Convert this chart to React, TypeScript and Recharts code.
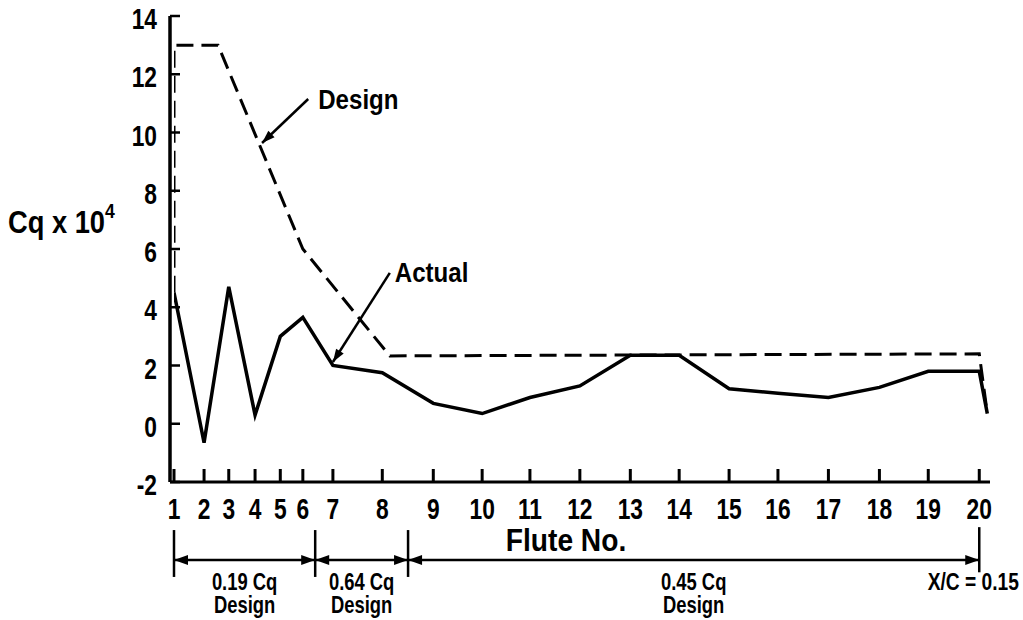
import React from 'react';
import { LineChart, Line, XAxis, YAxis, ReferenceLine } from 'recharts';

const FONT = "'Liberation Sans', Arial, sans-serif";

// flute number and its chordwise station (x/c)
const FLUTE_NO = [1, 2, 3, 4, 5, 6, 7, 8, 9, 10, 11, 12, 13, 14, 15, 16, 17, 18, 19, 20];
const FLUTE_XC = [
  0, 0.0056, 0.0102, 0.0151, 0.0198, 0.024, 0.0296, 0.0388, 0.0483, 0.0574,
  0.0663, 0.0756, 0.085, 0.0941, 0.1034, 0.1125, 0.1219, 0.1314, 0.1405, 0.15,
];
const ACTUAL_CQ = [
  4.5, -0.65, 4.7, 0.3, 3.0, 3.65, 2.0, 1.75, 0.7, 0.35,
  0.9, 1.3, 2.35, 2.35, 1.2, 1.05, 0.9, 1.25, 1.8, 1.8,
];
const TE_XC = 0.1515;
const TE_CQ = 0.35;

const DESIGN_XC = [0, 0, 0.0082, 0.024, 0.0402, 0.15, 0.1515];
const DESIGN_CQ = [4.5, 13, 13, 6.0, 2.33, 2.4, 0.35];

const Y_TICKS = [-2, 0, 2, 4, 6, 8, 10, 12, 14];

const ZONE_BOUNDS = [0, 0.0263, 0.0436, 0.15];
const ZONE_CQ = ['0.19 Cq', '0.64 Cq', '0.45 Cq'];

const actualData = FLUTE_XC.map((xc, i) => ({ xc, cq: ACTUAL_CQ[i] })).concat([{ xc: TE_XC, cq: TE_CQ }]);
const designData = DESIGN_XC.map((xc, i) => ({ xc, cq: DESIGN_CQ[i] }));

// bold text squeezed horizontally, stands in for a condensed face
function CText({ x, y, size, anchor = 'start', sx = 0.78, children }: any) {
  return (
    <text
      transform={`translate(${x},${y}) scale(${sx},1)`}
      textAnchor={anchor}
      fontFamily={FONT}
      fontWeight="bold"
      fontSize={size}
      fill="#000"
    >
      {children}
    </text>
  );
}

function FluteTick({ x, y, payload }: any) {
  const i = FLUTE_XC.indexOf(payload.value);
  return (
    <g>
      <line x1={x} y1={y} x2={x} y2={y - 13} stroke="#000" strokeWidth={3} />
      <CText x={x} y={y + 37} size={30} anchor="middle" sx={0.76}>
        {FLUTE_NO[i]}
      </CText>
    </g>
  );
}

function CqTick({ x, y, payload }: any) {
  return (
    <g>
      <line x1={x} y1={y} x2={x + 10} y2={y} stroke="#000" strokeWidth={2.5} />
      <CText x={x - 13} y={y + 13} size={30} anchor="end" sx={0.76}>
        {payload.value}
      </CText>
    </g>
  );
}

function arrowHead(x1: number, y1: number, x2: number, y2: number, len: number, half: number) {
  const dx = x2 - x1;
  const dy = y2 - y1;
  const d = Math.hypot(dx, dy) || 1;
  const ux = dx / d;
  const uy = dy / d;
  const bx = x2 - ux * len;
  const by = y2 - uy * len;
  return `${x2},${y2} ${bx - uy * half},${by + ux * half} ${bx + uy * half},${by - ux * half}`;
}

const noteShape = (label: string, dx: number, dy: number) => (p: any) => (
  <g>
    <line x1={p.x1} y1={p.y1} x2={p.x2} y2={p.y2} stroke="#000" strokeWidth={2.5} />
    <polygon points={arrowHead(p.x1, p.y1, p.x2, p.y2, 13, 4.5)} fill="#000" />
    <CText x={p.x1 + dx} y={p.y1 + dy} size={28} sx={0.86}>
      {label}
    </CText>
  </g>
);

const zoneShape = (label: string) => (p: any) => {
  const mx = (p.x1 + p.x2) / 2;
  return (
    <g>
      <line x1={p.x1} y1={p.y1} x2={p.x2} y2={p.y2} stroke="#000" strokeWidth={2.5} />
      <polygon points={arrowHead(p.x2, p.y2, p.x1, p.y1, 14, 5)} fill="#000" />
      <polygon points={arrowHead(p.x1, p.y1, p.x2, p.y2, 14, 5)} fill="#000" />
      <CText x={mx} y={p.y1 + 30} size={23} anchor="middle" sx={0.8}>
        {label}
      </CText>
      <CText x={mx} y={p.y1 + 53} size={23} anchor="middle" sx={0.8}>
        Design
      </CText>
    </g>
  );
};

const teShape = (p: any) => (
  <g>
    <line x1={p.x1} y1={p.y1} x2={p.x2} y2={p.y2} stroke="#000" strokeWidth={2.5} />
    <CText x={p.x2 - 6} y={p.y2 + 18} size={24} anchor="middle" sx={0.8}>
      X/C = 0.15
    </CText>
  </g>
);

const yLabel = (props: any) => {
  const vb = props.viewBox;
  return (
    <CText x={vb.x + 8} y={vb.y + 217} size={31} sx={0.88}>
      Cq x 10
      <tspan fontSize={20} dy={-15}>4</tspan>
    </CText>
  );
};

const xLabel = (props: any) => {
  const vb = props.viewBox;
  return (
    <CText x={566} y={vb.y + 69} size={32} anchor="middle" sx={0.88}>
      Flute No.
    </CText>
  );
};

export default function App() {
  return (
    <div style={{ position: 'absolute', left: 0, top: 0, background: '#fff' }}>
      <LineChart width={1023} height={620} margin={{ top: 16, right: 33, bottom: 0, left: 0 }}>
        <XAxis
          dataKey="xc"
          type="number"
          domain={[0, 0.152]}
          ticks={FLUTE_XC}
          interval={0}
          padding={{ left: 4, right: 0 }}
          height={138}
          tickSize={0}
          tickMargin={0}
          tickLine={false}
          tick={<FluteTick />}
          axisLine={{ stroke: '#000', strokeWidth: 3 }}
          allowDataOverflow
          label={xLabel}
        />
        <YAxis
          type="number"
          domain={[-2, 14]}
          ticks={Y_TICKS}
          interval={0}
          width={170}
          tickSize={0}
          tickMargin={0}
          tickLine={false}
          tick={<CqTick />}
          axisLine={{ stroke: '#000', strokeWidth: 3.5 }}
          allowDataOverflow
          label={yLabel}
        />
        <Line
          data={designData}
          dataKey="cq"
          type="linear"
          stroke="#000"
          strokeWidth={3}
          strokeDasharray="17 8"
          dot={false}
          isAnimationActive={false}
        />
        <Line
          data={actualData}
          dataKey="cq"
          type="linear"
          stroke="#000"
          strokeWidth={3.5}
          strokeLinejoin="miter"
          dot={false}
          isAnimationActive={false}
        />
        <ReferenceLine
          ifOverflow="visible"
          segment={[{ x: 0.025, y: 11.15 }, { x: 0.0164, y: 9.64 }]}
          shape={noteShape('Design', 10, 10)}
        />
        <ReferenceLine
          ifOverflow="visible"
          segment={[{ x: 0.0402, y: 5.18 }, { x: 0.0296, y: 2.12 }]}
          shape={noteShape('Actual', 5, 9)}
        />
        {ZONE_BOUNDS.slice(0, 3).map((b, i) => (
          <ReferenceLine
            key={`v${i}`}
            ifOverflow="visible"
            segment={[{ x: b, y: -3.65 }, { x: b, y: -5.26 }]}
            stroke="#000"
            strokeWidth={2.5}
          />
        ))}
        <ReferenceLine
          ifOverflow="visible"
          segment={[{ x: 0.15, y: -3.55 }, { x: 0.15, y: -5.1 }]}
          shape={teShape}
        />
        {ZONE_CQ.map((label, i) => (
          <ReferenceLine
            key={`z${i}`}
            ifOverflow="visible"
            segment={[{ x: ZONE_BOUNDS[i], y: -4.68 }, { x: ZONE_BOUNDS[i + 1], y: -4.68 }]}
            shape={zoneShape(label)}
          />
        ))}
      </LineChart>
    </div>
  );
}
